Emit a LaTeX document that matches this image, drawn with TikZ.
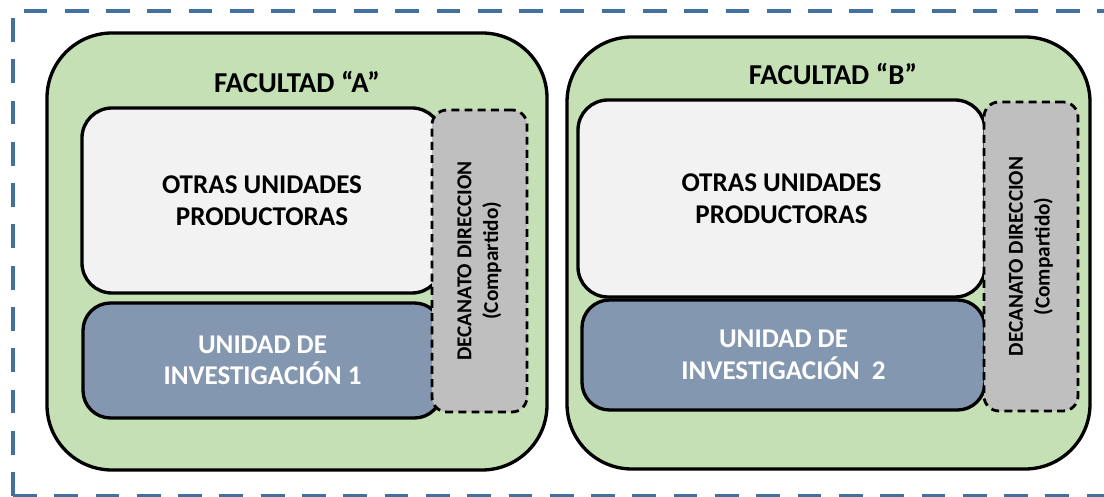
\documentclass[tikz,border=0pt]{standalone}
\usepackage{fontspec}
\setmainfont{Carlito}
\usepackage{tikz}
\usetikzlibrary{positioning}

\definecolor{facgreen}{HTML}{C5E0B4}
\definecolor{otrasgray}{HTML}{F2F2F2}
\definecolor{unidblue}{HTML}{8497B0}
\definecolor{decgray}{HTML}{BFBFBF}
\definecolor{borderblue}{HTML}{41719C}

\begin{document}
\begin{tikzpicture}
            \tikzset{facbox/.style={draw, line width=1.9pt, fill=facgreen, rounded corners=1.3cm}};
            \tikzset{otrasbox/.style={draw, line width=1.9pt, fill=otrasgray, rounded corners=0.6cm,
                font=\fontsize{15.4}{18}\selectfont\bfseries, align=center}};
            \tikzset{unidbox/.style={draw, line width=1.9pt, fill=unidblue, rounded corners=0.55cm,
                text=white, font=\fontsize{15.4}{18}\selectfont\bfseries, align=center}};
            \tikzset{decbox/.style={draw, line width=1.6pt, dash pattern=on 4.5pt off 3pt, fill=decgray,
                rounded corners=0.3cm}};
            \tikzset{dectext/.style={rotate=90, align=center, font=\fontsize{12.1}{15.2}\selectfont\bfseries}};
            \tikzset{titletext/.style={font=\fontsize{16.4}{19}\selectfont\bfseries}};

            \useasboundingbox (0,0) rectangle (22.08,-9.94);

            % marco punteado exterior
            \draw[borderblue, line width=2.8pt, dash pattern=on 13.5pt off 10pt]
                (0.26,-9.92) -- (0.26,-0.22) -- (22.3,-0.22);
            \draw[borderblue, line width=2.8pt, dash pattern=on 13.5pt off 10pt]
                (0.26,-9.92) -- (22.3,-9.92);

            % facultad A
            \node[facbox, minimum width=10.0cm, minimum height=8.74cm] (facA) at (5.94,-5.03) {};
            \node[titletext] (titA) at ([yshift=-1.02cm]facA.north) {FACULTAD “A”};
            \node[otrasbox, minimum width=7.2cm, minimum height=3.7cm] (otrasA) at (5.24,-4.01)
                {OTRAS UNIDADES\\PRODUCTORAS};
            \node[unidbox, minimum width=7.18cm, minimum height=2.3cm] (unidA) at (5.25,-7.21)
                {UNIDAD DE\\INVESTIGACIÓN 1};
            \node[decbox, minimum width=1.9cm, minimum height=6.04cm] (decA) at (9.59,-5.22) {};
            \node[dectext] (decAtxt) at (decA.center) {DECANATO DIRECCION\\(Compartido)};

            % facultad B
            \node[facbox, minimum width=10.46cm, minimum height=8.64cm] (facB) at (16.57,-5.06) {};
            \node[titletext] (titB) at ([xshift=0.09cm,yshift=-0.78cm]facB.north) {FACULTAD “B”};
            \node[otrasbox, minimum width=8.14cm, minimum height=3.94cm] (otrasB) at (15.63,-3.97)
                {OTRAS UNIDADES\\PRODUCTORAS};
            \node[unidbox, minimum width=8.06cm, minimum height=2.2cm] (unidB) at (15.67,-7.1)
                {UNIDAD DE\\INVESTIGACIÓN~\ 2};
            \node[decbox, minimum width=1.88cm, minimum height=6.18cm] (decB) at (20.62,-5.13) {};
            \node[dectext] (decBtxt) at (decB.center) {DECANATO DIRECCION\\(Compartido)};
\end{tikzpicture}
\end{document}
